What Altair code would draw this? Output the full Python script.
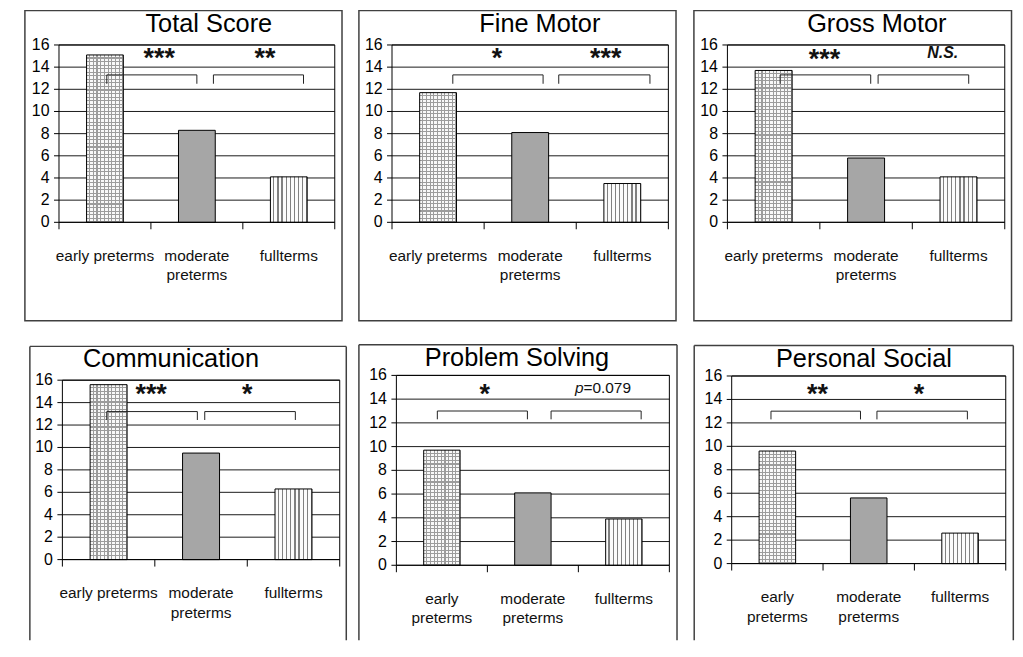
import altair as alt
import pandas as pd

FONT = "Liberation Sans"

# ---------------- data ----------------
categories = ["early preterms", "moderate preterms", "fullterms"]
titles = ["Total Score", "Fine Motor", "Gross Motor",
          "Communication", "Problem Solving", "Personal Social"]

total_score = [15.1, 8.3, 4.1]
fine_motor = [11.7, 8.1, 3.5]
gross_motor = [13.7, 5.8, 4.1]
communication = [15.6, 9.5, 6.3]
problem_solving = [9.7, 6.1, 3.9]
personal_social = [9.6, 5.6, 2.6]
series = [total_score, fine_motor, gross_motor,
          communication, problem_solving, personal_social]

y_ticks = [0, 2, 4, 6, 8, 10, 12, 14, 16]
x_ticks = [0, 1, 2, 3]

labels_wide = ["early preterms", "moderate|preterms", "fullterms"]
labels_narrow = ["early|preterms", "moderate|preterms", "fullterms"]
panel_labels = [labels_wide, labels_wide, labels_wide,
                labels_wide, labels_narrow, labels_narrow]

# comparison brackets, in category-band units (0..3)
brackets = [
    [(0.52, 1.50), (1.68, 2.66)],
    [(0.66, 1.64), (1.81, 2.80)],
    [(0.57, 1.55), (1.63, 2.61)],
    [(0.48, 1.46), (1.54, 2.52)],
    [(0.45, 1.44), (1.70, 2.69)],
    [(0.43, 1.41), (1.59, 2.58)],
]
bracket_top = [13.3, 13.3, 13.3, 13.2, 13.0, 13.0]
bracket_leg = [12.5, 12.5, 12.5, 12.45, 12.3, 12.3]

sig_text = [["***", "**"], ["*", "***"], ["***", "N.S."],
            ["***", "*"], ["*", "p=0.079"], ["**", "*"]]
sig_x = [[1.09, 2.24], [1.14, 2.32], [1.05, 2.33],
         [0.96, 2.00], [0.97, 2.27], [0.94, 2.05]]
sig_y = [15.4, 15.35, 15.3, 15.3, 15.0, 15.0]

# ---------------- layout (page pixels) ----------------
ORIGIN = 8
CANVAS_W, CANVAS_H = 1012, 634
plot_box = [(59.3, 336.7, 43.3, 221.7), (394.3, 672.3, 43.3, 221.7),
            (731.7, 1010.7, 43.3, 221.7), (62.7, 341.7, 380.5, 561),
            (398.7, 673.3, 375.7, 566.7), (736, 1011.7, 376.3, 565)]
frame_box = [(25, 344, 8.75, 320.7), (361, 680, 8.75, 320.7),
             (698, 1017.5, 8.75, 320.7), (30, 348.3, 346.5, None),
             (361, 681, 344.8, None), (698.3, 1019.3, 345.5, None)]
title_pos = [(210, 30.7), (543, 30.7), (882, 30.7),
             (172, 367.3), (520, 366.7), (869, 367.3)]

FRAME = "#404040"
TITLE_FS = 25.5
STAR_FS = 27
TXT_FS = 15.5
NS_FS = 16
LAB_FS = 15.5
YLAB_FS = 16
BAR_HALF = 0.2


def P(v):
    return v - ORIGIN


def stripe_gradient(n, frac, line, gap, direction):
    stops = []
    for k in range(n):
        a = k / n
        b = (k + 1 - frac) / n
        c = (k + 1) / n
        stops += [{"color": gap, "offset": round(a, 5)},
                  {"color": gap, "offset": round(b, 5)},
                  {"color": line, "offset": round(b, 5)},
                  {"color": line, "offset": round(c, 5)}]
    x2, y2 = (1, 0) if direction == "x" else (0, 1)
    return {"gradient": "linear", "x1": 0, "y1": 0, "x2": x2, "y2": y2,
            "stops": stops}


def panel_layers(i):
    px0, px1, py0, py1 = plot_box[i]
    h = py1 - py0
    xs = alt.Scale(domain=[0, 3], range=[P(px0), P(px1)], nice=False, zero=False)
    ys = alt.Scale(domain=[0, 16], range=[P(py1), P(py0)], nice=False, zero=False)
    one = pd.DataFrame({"t": [titles[i]]})
    out = []

    # panel frame
    bx0, bx1, by0, by1 = frame_box[i]
    if by1 is not None:
        out.append(alt.Chart(one).mark_rect(
            filled=False, color=FRAME, strokeWidth=1.5).encode(
            x=alt.value(P(bx0)), x2=alt.value(P(bx1)),
            y=alt.value(P(by0)), y2=alt.value(P(by1))))
    else:
        out.append(alt.Chart(one).mark_rule(color=FRAME, strokeWidth=1.5).encode(
            x=alt.value(P(bx0)), x2=alt.value(P(bx1)),
            y=alt.value(P(by0)), y2=alt.value(P(by0))))
        for xx in (bx0, bx1):
            out.append(alt.Chart(one).mark_rule(color=FRAME, strokeWidth=1.5).encode(
                x=alt.value(P(xx)), y=alt.value(P(by0)), y2=alt.value(CANVAS_H)))

    # title
    tx, ty = title_pos[i]
    out.append(alt.Chart(one).mark_text(
        font=FONT, fontSize=TITLE_FS, align="center", baseline="alphabetic",
        color="black").encode(x=alt.value(P(tx)), y=alt.value(P(ty)), text="t:N"))

    # gridlines
    yt = pd.DataFrame({"t": y_ticks, "lab": [str(t) for t in y_ticks]})
    out.append(alt.Chart(yt).mark_rule(color="#1a1a1a", strokeWidth=1).encode(
        x=alt.value(P(px0)), x2=alt.value(P(px1)),
        y=alt.Y("t:Q", scale=ys, axis=None)))

    # bars
    df = pd.DataFrame({"cat": categories, "v": series[i],
                       "idx": list(range(len(categories))),
                       "lab": panel_labels[i]})
    base = alt.Chart(df).transform_calculate(
        x0=f"datum.idx + 0.5 - {BAR_HALF}", x1=f"datum.idx + 0.5 + {BAR_HALF}",
        xc="datum.idx + 0.5")
    enc = dict(x=alt.X("x0:Q", scale=xs, axis=None), x2="x1:Q",
               y=alt.Y("v:Q", scale=ys, axis=None), y2=alt.datum(0))
    early_px = series[i][0] * h / 16
    n_h = max(1, round(early_px / 3.6))
    out.append(base.transform_filter(alt.datum.idx == 0).mark_bar(
        fill=stripe_gradient(10, 0.3, "#9c9c9c", "#f8f8f8", "x")).encode(**enc))
    out.append(base.transform_filter(alt.datum.idx == 0).mark_bar(
        fill=stripe_gradient(n_h, 0.3, "#9c9c9c", "rgba(255,255,255,0)", "y"),
        stroke="black", strokeWidth=1).encode(**enc))
    out.append(base.transform_filter(alt.datum.idx == 1).mark_bar(
        fill="#a6a6a6", stroke="black", strokeWidth=1).encode(**enc))
    out.append(base.transform_filter(alt.datum.idx == 2).mark_bar(
        fill=stripe_gradient(9, 0.3, "#808080", "#fbfbfb", "x"),
        stroke="black", strokeWidth=1).encode(**enc))

    # plot border (axis lines)
    out.append(alt.Chart(one).mark_rect(filled=False, color="black", strokeWidth=1).encode(
        x=alt.value(P(px0)), x2=alt.value(P(px1)),
        y=alt.value(P(py0)), y2=alt.value(P(py1))))

    # y ticks and labels
    out.append(alt.Chart(yt).mark_rule(color="black", strokeWidth=1).encode(
        x=alt.value(P(px0) - 5), x2=alt.value(P(px0)),
        y=alt.Y("t:Q", scale=ys, axis=None)))
    out.append(alt.Chart(yt).mark_text(
        font=FONT, fontSize=YLAB_FS, align="right", baseline="middle",
        color="black").encode(
        x=alt.value(P(px0) - 9.5), y=alt.Y("t:Q", scale=ys, axis=None), text="lab:N"))

    # x ticks at category boundaries
    xt = pd.DataFrame({"t": x_ticks})
    out.append(alt.Chart(xt).mark_rule(color="black", strokeWidth=1).encode(
        x=alt.X("t:Q", scale=xs, axis=None),
        y=alt.value(P(py1)), y2=alt.value(P(py1) + 7)))

    # category labels
    out.append(base.mark_text(
        font=FONT, fontSize=LAB_FS, lineBreak="|", lineHeight=19.5,
        align="center", baseline="alphabetic", color="#111111").encode(
        x=alt.X("xc:Q", scale=xs, axis=None), y=alt.value(P(py1) + 39),
        text="lab:N"))

    # brackets
    segs = []
    for a, b in brackets[i]:
        t, l = bracket_top[i], bracket_leg[i]
        segs += [dict(x0=a, x1=b, y0=t, y1=t),
                 dict(x0=a, x1=a, y0=t, y1=l),
                 dict(x0=b, x1=b, y0=t, y1=l)]
    out.append(alt.Chart(pd.DataFrame(segs)).mark_rule(
        color="#222222", strokeWidth=1).encode(
        x=alt.X("x0:Q", scale=xs, axis=None), x2="x1:Q",
        y=alt.Y("y0:Q", scale=ys, axis=None), y2="y1:Q"))

    # significance marks
    rows = []
    for txt, xx in zip(sig_text[i], sig_x[i]):
        if set(txt) == {"*"}:
            kind = "stars"
        elif txt.startswith("p="):
            kind = "p"
        else:
            kind = "ns"
        rows.append(dict(text=txt, x=xx, y=sig_y[i], kind=kind,
                         pre=txt[:1], rest=txt[1:]))
    ann = pd.DataFrame(rows)
    aenc = dict(x=alt.X("x:Q", scale=xs, axis=None),
                y=alt.Y("y:Q", scale=ys, axis=None))
    kinds = set(ann["kind"])
    if "stars" in kinds:
        out.append(alt.Chart(ann).transform_filter(alt.datum.kind == "stars").mark_text(
            font=FONT, fontSize=STAR_FS, fontWeight="bold", align="center",
            baseline="alphabetic", dy=0.57 * STAR_FS, color="#111111"
        ).encode(text="text:N", **aenc))
    if "ns" in kinds:
        out.append(alt.Chart(ann).transform_filter(alt.datum.kind == "ns").mark_text(
            font=FONT, fontSize=NS_FS, fontWeight="bold", fontStyle="italic",
            align="center", baseline="alphabetic", dy=0.36 * NS_FS, color="#111111"
        ).encode(text="text:N", **aenc))
    if "p" in kinds:
        w_p = 0.556 * TXT_FS
        w_rest = 3.086 * TXT_FS
        shift = -(w_p + w_rest) / 2 + w_p
        out.append(alt.Chart(ann).transform_filter(alt.datum.kind == "p").mark_text(
            font=FONT, fontSize=TXT_FS, fontStyle="italic", align="right",
            baseline="alphabetic", dx=shift, dy=0.36 * TXT_FS, color="#111111"
        ).encode(text="pre:N", **aenc))
        out.append(alt.Chart(ann).transform_filter(alt.datum.kind == "p").mark_text(
            font=FONT, fontSize=TXT_FS, align="left",
            baseline="alphabetic", dx=shift, dy=0.36 * TXT_FS, color="#111111"
        ).encode(text="rest:N", **aenc))
    return out


all_layers = []
for i in range(6):
    all_layers += panel_layers(i)

chart = alt.layer(*all_layers).resolve_scale(
    x="independent", y="independent"
).properties(
    width=CANVAS_W, height=CANVAS_H, padding=0, background="white"
).configure_view(strokeWidth=0)

chart.save("out.html", embed_options={"renderer": "svg", "actions": False})
